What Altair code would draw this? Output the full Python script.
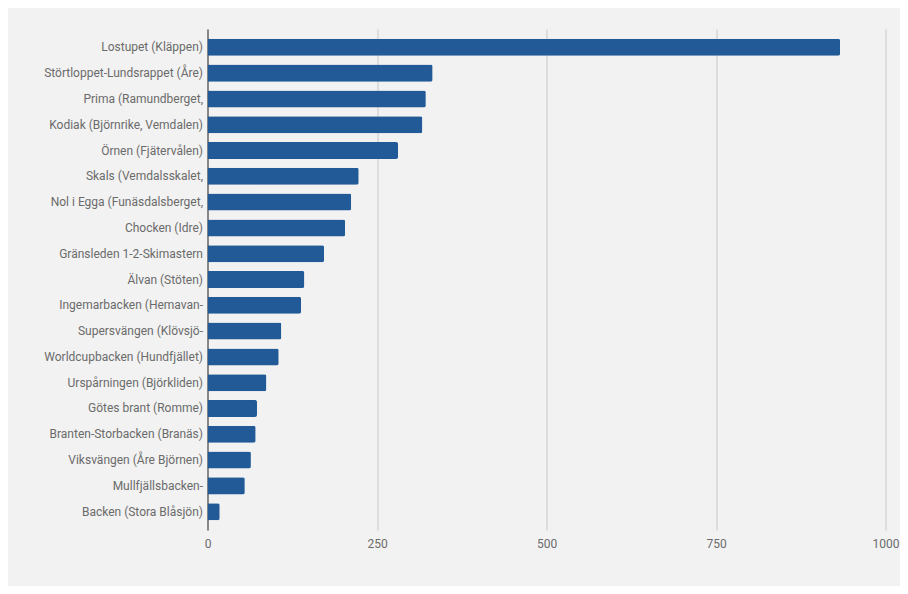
import altair as alt
import pandas as pd

# Backar och deras värden, uppifrån och ned
backar = [
    "Lostupet (Kläppen)",
    "Störtloppet-Lundsrappet (Åre)",
    "Prima (Ramundberget,",
    "Kodiak (Björnrike, Vemdalen)",
    "Örnen (Fjätervålen)",
    "Skals (Vemdalsskalet,",
    "Nol i Egga (Funäsdalsberget,",
    "Chocken (Idre)",
    "Gränsleden 1-2-Skimastern",
    "Älvan (Stöten)",
    "Ingemarbacken (Hemavan-",
    "Supersvängen (Klövsjö-",
    "Worldcupbacken (Hundfjället)",
    "Urspårningen (Björkliden)",
    "Götes brant (Romme)",
    "Branten-Storbacken (Branäs)",
    "Viksvängen (Åre Björnen)",
    "Mullfjällsbacken-",
    "Backen (Stora Blåsjön)",
]
varden = [933, 332, 322, 317, 281, 223, 212, 203, 172, 143, 138, 109, 105, 87, 73, 71, 64, 55, 18]
x_ticks = [0, 250, 500, 750, 1000]

df = pd.DataFrame({"backe": backar, "varde": varden})

chart = alt.Chart(df).mark_bar(
    color="#215a97", cornerRadiusTopRight=2, cornerRadiusBottomRight=2
).encode(
    x=alt.X(
        "varde:Q",
        scale=alt.Scale(domain=[0, 1000], nice=False),
        axis=alt.Axis(
            title=None, values=x_ticks, format="d", grid=True, gridColor="#c8c8c8",
            domain=False, ticks=False, labelPadding=8, labelFontSize=12,
            labelColor="#6b6b6b", labelFont="Roboto", labelFlush=False,
        ),
    ),
    y=alt.Y(
        "backe:N",
        sort=backar,
        scale=alt.Scale(paddingInner=0.34, paddingOuter=0.38),
        axis=alt.Axis(
            title=None, ticks=False, domainColor="#333333", labelPadding=5,
            labelFontSize=12, labelColor="#6b6b6b", labelFont="Roboto",
            labelLimit=300, grid=False,
        ),
    ),
    tooltip=[alt.Tooltip("backe:N"), alt.Tooltip("varde:Q")],
).properties(
    width=678,
    height=501,
    autosize=alt.AutoSizeParams(type="none"),
    padding={"left": 199.5, "top": 21, "right": 14.5, "bottom": 56},
    background="#f2f2f2",
).configure_view(
    stroke=None
)

chart.save("out.html", embed_options={"renderer": "svg", "actions": False})
